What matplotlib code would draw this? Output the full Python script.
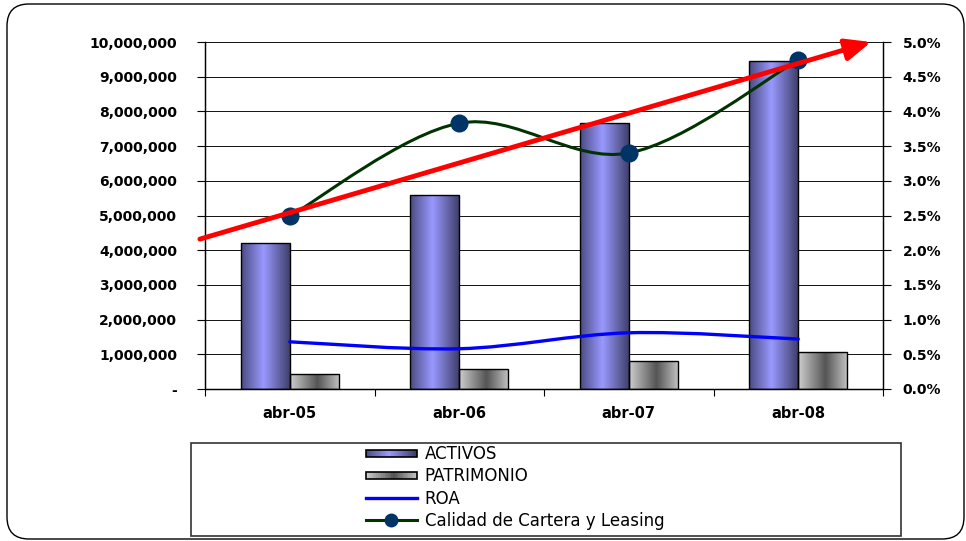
""" Recreates the ACTIVOS / PATRIMONIO / ROA / Calidad chart """

import numpy as np
import matplotlib
matplotlib.use("Agg")
import matplotlib.pyplot as plt
from matplotlib.colors import LinearSegmentedColormap
from matplotlib.patches import FancyBboxPatch, Rectangle, PathPatch
from matplotlib.path import Path
from matplotlib.legend_handler import HandlerBase
from matplotlib.ticker import FuncFormatter, FixedLocator
import matplotlib.lines as mlines

periodos = ["abr-05", "abr-06", "abr-07", "abr-08"]
activos = [4210000, 5590000, 7670000, 9450000]
patrimonio = [430000, 580000, 810000, 1070000]
roa = [0.68, 0.58, 0.81, 0.72]            # %
calidad = [2.49, 3.83, 3.40, 4.74]        # %
tendencia_x = [-0.53, 3.43]               # red trend arrow, category units
tendencia_y = [2.16, 5.0]                 # %

cmapActivos = LinearSegmentedColormap.from_list(
    "act", [(0, "#4a4a82"), (0.45, "#9999ff"), (1, "#3c3c66")])
cmapPatrimonio = LinearSegmentedColormap.from_list(
    "pat", [(0, "#cfcfcf"), (0.55, "#555555"), (1, "#c4c4c4")])


def smoothPath(xs, ys):
    """ Catmull-Rom style smoothed path through the points (like Excel smoothed lines) """
    pts = np.column_stack([xs, ys]).astype(float)
    verts = [pts[0]]
    codes = [Path.MOVETO]
    n = len(pts)
    for i in range(n - 1):
        p0 = pts[i - 1] if i > 0 else pts[i]
        p1 = pts[i]
        p2 = pts[i + 1]
        p3 = pts[i + 2] if i + 2 < n else pts[i + 1]
        verts += [p1 + (p2 - p0) / 6, p2 - (p3 - p1) / 6, p2]
        codes += [Path.CURVE4] * 3
    return Path(verts, codes)


class GradientHandler(HandlerBase):
    """ Legend handle drawn as a small gradient box """

    def __init__(self, cmap):
        super().__init__()
        self.cmap = cmap

    def create_artists(self, legend, orig_handle, xdescent, ydescent,
                       width, height, fontsize, trans):
        arts = []
        n = 30
        h = height * 0.62
        y0 = -ydescent + (height - h) / 2
        for k in range(n):
            arts.append(Rectangle((-xdescent + width * k / n, y0), width / n + 0.4, h,
                                  facecolor=self.cmap((k + 0.5) / n), edgecolor="none",
                                  transform=trans))
        arts.append(Rectangle((-xdescent, y0), width, h, facecolor="none",
                              edgecolor="black", lw=1.2, transform=trans))
        return arts


fig = plt.figure(figsize=(9.66, 5.41), dpi=100)
ax = fig.add_axes([205 / 966, 1 - 389 / 541, (883 - 205) / 966, (389 - 42) / 541])
ax2 = ax.twinx()

x = np.arange(len(periodos))
w = 0.29

bars1 = ax.bar(x - w / 2, activos, w, facecolor="none", edgecolor="black", lw=1.0, zorder=2)
bars2 = ax.bar(x + w / 2, patrimonio, w, facecolor="none", edgecolor="black", lw=1.0, zorder=2)

grad = np.linspace(0, 1, 256).reshape(1, -1)
for bars, cmap in ((bars1, cmapActivos), (bars2, cmapPatrimonio)):
    for b in bars:
        bx, bw, bh = b.get_x(), b.get_width(), b.get_height()
        img = ax.imshow(grad, cmap=cmap, aspect="auto", extent=[bx, bx + bw, 0, bh],
                        zorder=1.5, interpolation="bilinear")
        img.set_clip_path(b)

ax.set_xlim(-0.5, len(periodos) - 0.5)
ax.set_ylim(0, 10000000)
ax.set_yticks(np.arange(0, 10000001, 1000000))
ax.yaxis.set_major_formatter(FuncFormatter(lambda v, p: "-" if v == 0 else "{:,.0f}".format(v)))
ax.yaxis.grid(True, color="#111111", lw=0.7)
ax.set_axisbelow(True)

ax.xaxis.set_major_locator(FixedLocator(np.arange(-0.5, len(periodos), 1.0)))
ax.xaxis.set_major_formatter(FuncFormatter(lambda v, p: ""))
ax.xaxis.set_minor_locator(FixedLocator(x))
ax.set_xticklabels(periodos, minor=True)
ax.tick_params(axis="x", which="major", length=5, direction="out")
ax.tick_params(axis="x", which="minor", length=0, pad=12)
ax.tick_params(axis="y", length=6, direction="out", pad=14)

for lbl in ax.get_yticklabels():
    lbl.set_fontfamily("DejaVu Sans")
    lbl.set_fontweight("bold")
    lbl.set_fontsize(10)
for lbl in ax.get_xticklabels(minor=True):
    lbl.set_fontfamily("DejaVu Sans")
    lbl.set_fontweight("bold")
    lbl.set_fontsize(10.5)

ax2.set_ylim(0, 5.0)
ax2.set_yticks(np.arange(0, 5.01, 0.5))
ax2.yaxis.set_major_formatter(FuncFormatter(lambda v, p: "{:.1f}%".format(v)))
ax2.tick_params(axis="y", length=6, direction="out", pad=8)
for lbl in ax2.get_yticklabels():
    lbl.set_fontfamily("DejaVu Sans")
    lbl.set_fontweight("bold")
    lbl.set_fontsize(10)

for a in (ax, ax2):
    a.spines["top"].set_visible(False)
    for s in ("left", "right", "bottom"):
        a.spines[s].set_color("black")
        a.spines[s].set_linewidth(0.9)

# smoothed lines
ax2.add_patch(PathPatch(smoothPath(x, roa), facecolor="none", edgecolor="#0000ff",
                        lw=2.4, zorder=3, capstyle="round"))
ax2.add_patch(PathPatch(smoothPath(x, calidad), facecolor="none", edgecolor="#003300",
                        lw=2.2, zorder=3))
ax2.plot(x, calidad, "o", color="#003366", markersize=12, zorder=4)

# trend arrow
ax2.annotate("", xy=(tendencia_x[1], tendencia_y[1]), xytext=(tendencia_x[0], tendencia_y[0]),
             xycoords="data", annotation_clip=False,
             arrowprops=dict(arrowstyle="-|>,head_length=0.7,head_width=0.3", color="#ff0000",
                             lw=3.5, shrinkA=0, shrinkB=0, mutation_scale=22), zorder=5)

# outer rounded frame
fig.patches.append(FancyBboxPatch((0.07, 0.02), 9.57, 5.35,
                                  boxstyle="round,pad=0,rounding_size=0.22",
                                  transform=fig.dpi_scale_trans, facecolor="none",
                                  edgecolor="black", lw=1.0))

# legend box
fig.patches.append(Rectangle((1.91, 0.05), 7.10, 0.93, transform=fig.dpi_scale_trans,
                             facecolor="white", edgecolor="#333333", lw=1.2, zorder=0))

hAct = Rectangle((0, 0), 1, 1)
hPat = Rectangle((0, 0), 1, 1)
hRoa = mlines.Line2D([], [], color="#0000ff", lw=2.4)
hCal = mlines.Line2D([], [], color="#003300", lw=2.2, marker="o",
                     markerfacecolor="#003366", markeredgecolor="#003366", markersize=9)
fig.legend([hAct, hPat, hRoa, hCal],
           ["ACTIVOS", "PATRIMONIO", "ROA", "Calidad de Cartera y Leasing"],
           handler_map={hAct: GradientHandler(cmapActivos), hPat: GradientHandler(cmapPatrimonio)},
           loc="upper left", bbox_to_anchor=(366 / 966, 1 - 445 / 541),
           frameon=False, borderpad=0, borderaxespad=0, handlelength=3.05,
           handletextpad=0.48, labelspacing=0.26, prop={"family": "DejaVu Sans", "size": 12})

plt.savefig("out.png", dpi=100)
